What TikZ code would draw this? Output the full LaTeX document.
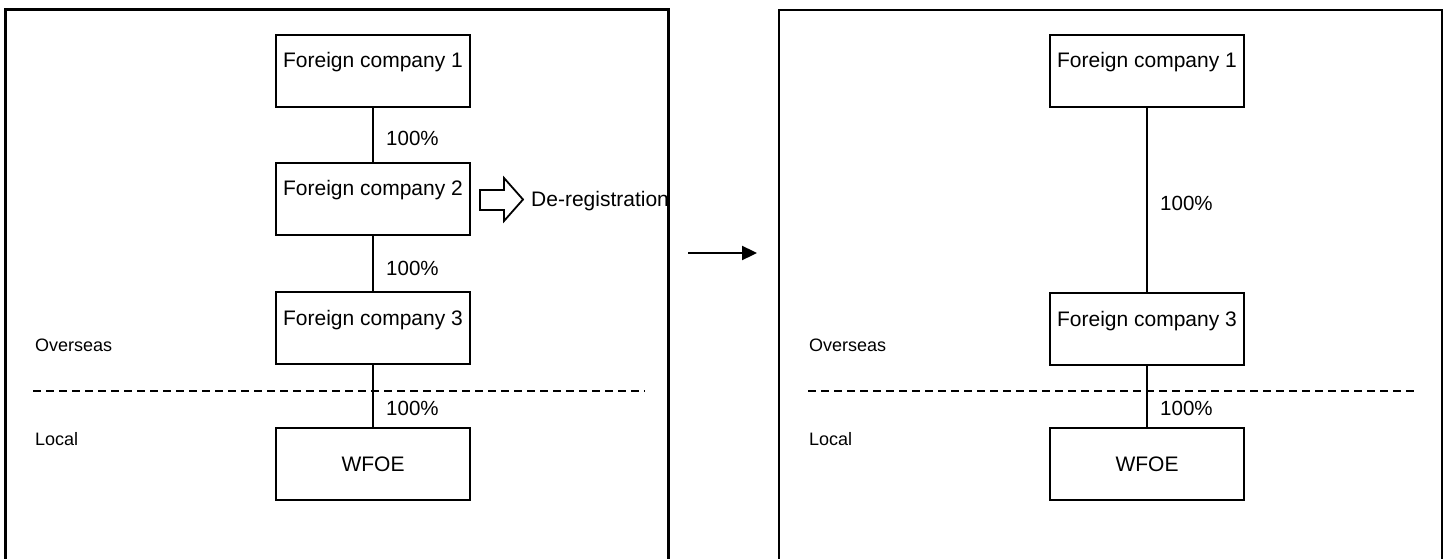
\documentclass[tikz,border=0pt]{standalone}
\usepackage{fontspec}
\setmainfont{Liberation Sans}
\usetikzlibrary{arrows.meta}
\begin{document}
\begin{tikzpicture}[x=1pt,y=-1pt,
  box/.style={draw,line width=2.3pt,minimum width=194pt,minimum height=72pt,inner sep=0pt,
    font=\fontsize{21}{25}\selectfont},
  topbox/.style={box,text height=15pt,text depth=21pt},
  pct/.style={anchor=west,inner sep=0pt,font=\fontsize{20.5}{24}\selectfont},
  side/.style={anchor=west,inner sep=0pt,font=\fontsize{18}{22}\selectfont},
  conn/.style={line width=2.3pt},
  frame/.style={line width=3pt},
  divider/.style={line width=2.3pt,dash pattern=on 8pt off 5pt}]
\clip (0,0) rectangle (1446,559);
\fill[white] (0,0) rectangle (1446,559);
% panel frames
\draw[frame] (5,580) -- (5,10) -- (668,10) -- (668,580);
\draw[frame,line width=2.5pt] (779,580) -- (779,10) -- (1442,10) -- (1442,580);
% dividers
\coordinate (dl1) at (33,391);
\coordinate (dl2) at (645,391);
\coordinate (dr1) at (808,391);
\coordinate (dr2) at (1418,391);
\draw[divider] (dl1) -- (dl2);
\draw[divider] (dr1) -- (dr2);
% left panel
\node[topbox] (f1) at (373,71) {Foreign company 1};
\node[topbox] (f2) at (373,199) {Foreign company 2};
\node[topbox] (f3) at (373,328) {Foreign company 3};
\node[box] (w) at (373,464) {WFOE};
\draw[conn] (f1) -- (f2);
\draw[conn] (f2) -- (f3);
\draw[conn] (f3) -- (w);
\node[pct] (p1) at (386,138) {100\%};
\node[pct] (p2) at (386,268) {100\%};
\node[pct] (p3) at (386,408) {100\%};
\node[side] (ov1) at (35,345) {Overseas};
\node[side] (lo1) at (35,439) {Local};
\draw[line width=1.8pt,fill=white,line join=miter] (480,190) -- (504,190) -- (504,178) -- (523,199.5) -- (504,221) -- (504,210) -- (480,210) -- cycle;
\node[anchor=west,inner sep=0pt,font=\fontsize{21}{25}\selectfont] (dereg) at (531,201) {De-registration};
% arrow between panels
\coordinate (a1) at (688,253);
\coordinate (a2) at (757,253);
\draw[line width=2.3pt,-{Triangle[length=15pt,width=14pt]}] (a1) -- (a2);
% right panel
\node[topbox] (g1) at (1147,71) {Foreign company 1};
\node[topbox] (g3) at (1147,329) {Foreign company 3};
\node[box] (v) at (1147,464) {WFOE};
\draw[conn] (g1) -- (g3);
\draw[conn] (g3) -- (v);
\node[pct] (q1) at (1160,203) {100\%};
\node[pct] (q2) at (1160,408) {100\%};
\node[side] (ov2) at (809,345) {Overseas};
\node[side] (lo2) at (809,439) {Local};
\end{tikzpicture}
\end{document}
